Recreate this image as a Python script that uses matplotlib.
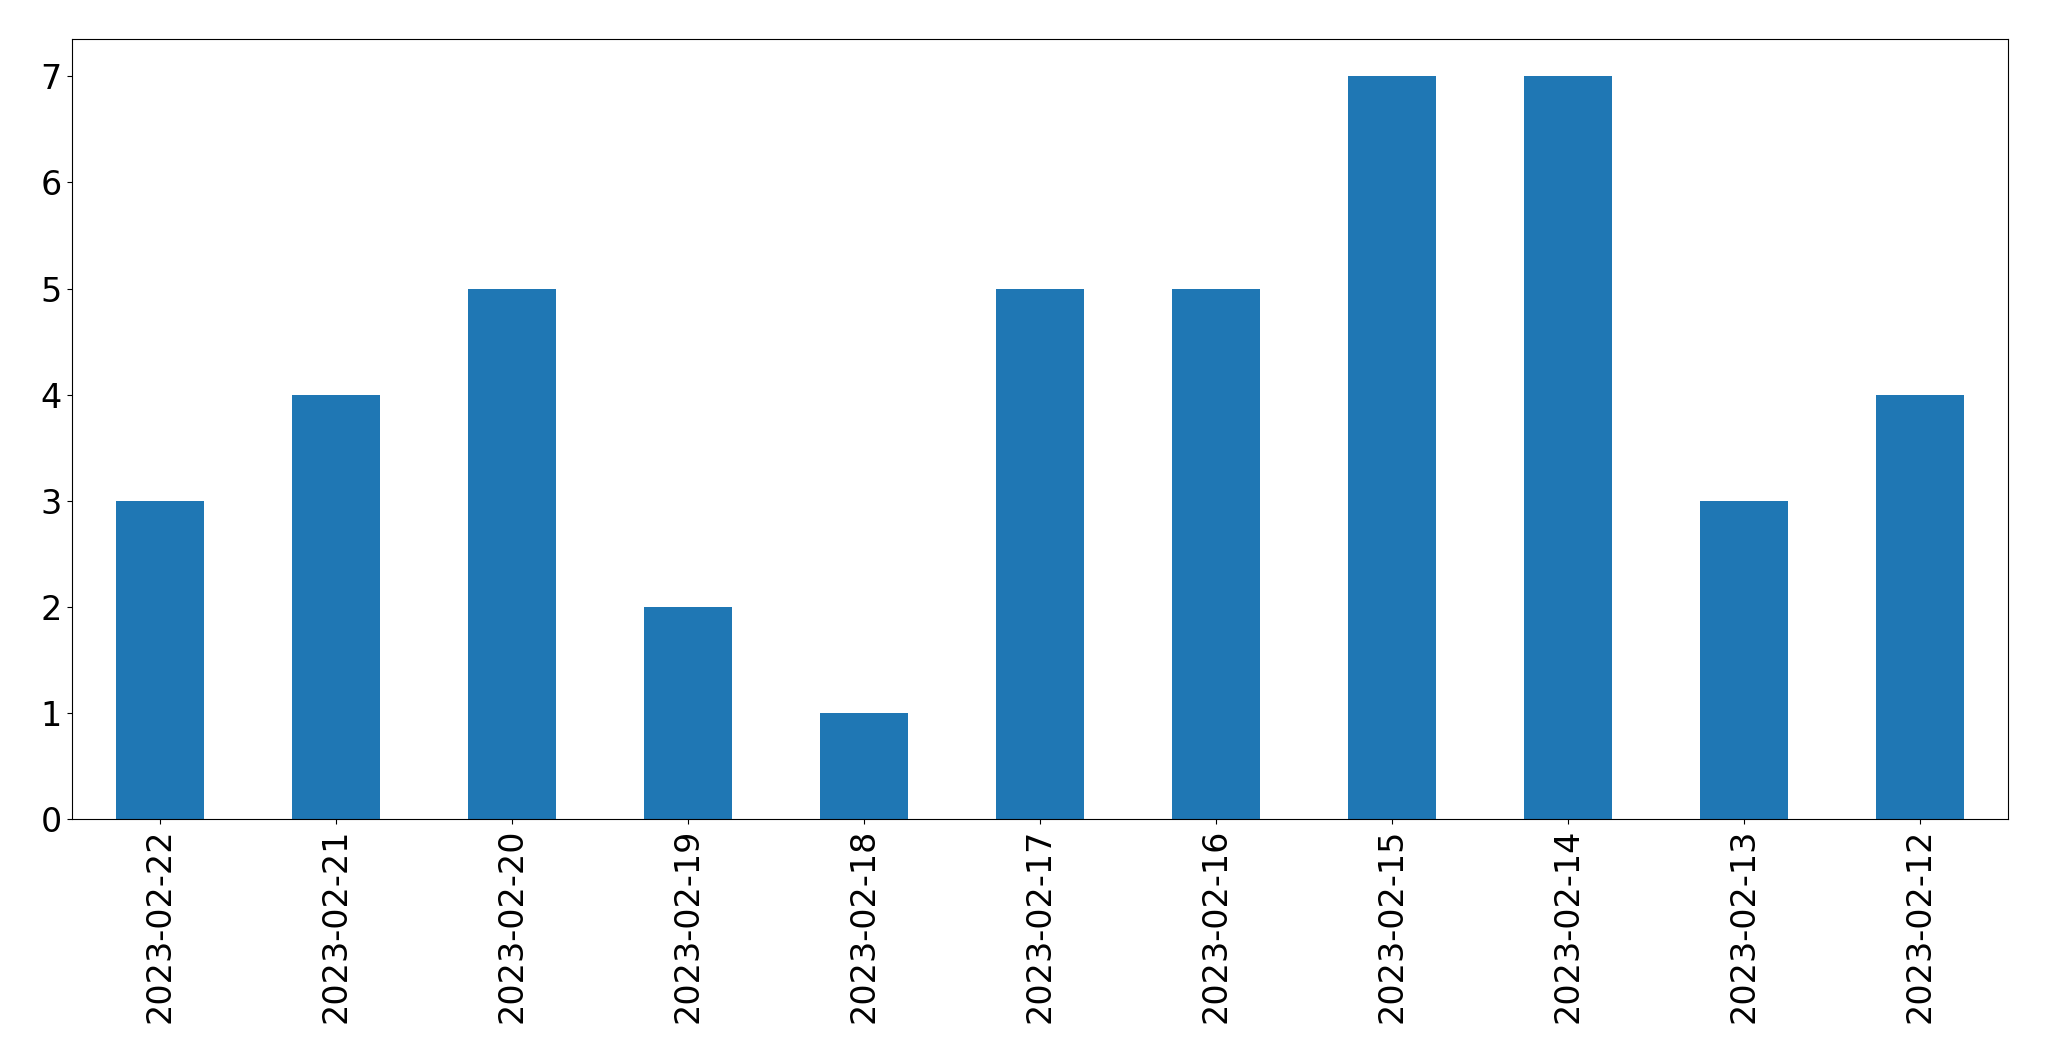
import matplotlib
matplotlib.use("Agg")
import matplotlib.pyplot as plt

dates = ["2023-02-22","2023-02-21","2023-02-20","2023-02-19","2023-02-18","2023-02-17",
         "2023-02-16","2023-02-15","2023-02-14","2023-02-13","2023-02-12"]
counts = [3,4,5,2,1,5,5,7,7,3,4]

fig = plt.figure(figsize=(20.49,10.61), dpi=100)
ax = fig.add_axes([0.035,0.228,0.945,0.735])
x = range(len(dates))
ax.bar(x, counts, width=0.5, color="#1f77b4")
ax.set_xticks(list(x))
ax.set_xticklabels(dates, rotation=90)
ax.set_xlim(-0.5, len(dates)-0.5)
ax.set_ylim(0, 7.35)
ax.tick_params(labelsize=24)
fig.savefig("out.png", dpi=100)
